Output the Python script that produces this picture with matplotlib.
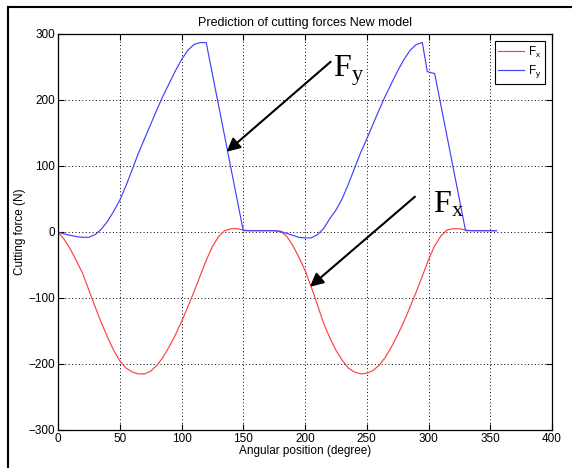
import matplotlib
matplotlib.use("Agg")
import matplotlib.pyplot as plt
from matplotlib.lines import Line2D

# Fx (red)
fx_angle = [0, 5, 10, 15, 20, 25, 30, 35, 40, 45, 50, 55, 60, 65, 70, 75, 80, 85, 90, 95,
            100, 105, 110, 115, 120, 125, 130, 135, 140, 145, 150, 155, 160, 165, 170, 175, 180,
            185, 190, 195, 200, 205, 210, 215, 220, 225, 230, 235, 240, 245, 250, 255, 260, 265,
            270, 275, 280, 285, 290, 295, 300, 305, 310, 315, 320, 325, 330, 335, 340, 345, 350, 355]
fx_force = [0, -11, -26, -44, -63, -88, -113, -137, -159, -179, -195, -206, -212, -215, -215,
            -211, -202, -190, -174, -156, -136, -114, -91, -67, -43, -22, -7, 2, 5, 5, 3,
            2, 2, 2, 2, 2, 1, -6, -20, -38, -58, -83, -110, -138, -160, -179, -194, -206, -212,
            -215, -214, -210, -202, -190, -174, -156, -136, -114, -91, -67, -42, -21, -6, 3, 5,
            5, 3, 2, 2, 2, 2, 2]

# Fy (blue)
fy_angle = [0, 5, 10, 15, 20, 25, 30, 35, 40, 45, 50, 55, 60, 65, 70, 75, 80, 85, 90, 95,
            100, 105, 110, 115, 120, 150, 155, 160, 165, 170, 175, 180,
            185, 190, 195, 200, 205, 210, 215, 220, 225, 230, 235, 240, 245, 250, 255, 260, 265,
            270, 275, 280, 285, 290, 295, 299, 305, 330, 335, 340, 345, 350, 355]
fy_force = [0, -3, -5, -7, -8, -8, -4, 4, 16, 31, 48, 70, 94, 119, 141, 163, 185, 206, 225,
            244, 261, 275, 284, 287, 287, 2, 2, 2, 2, 2, 2, 1,
            -2, -5, -8, -9, -9, -4, 5, 20, 33, 50, 72, 96, 120, 141, 163, 185, 206,
            225, 244, 261, 275, 284, 287, 243, 240, 2, 2, 2, 2, 2, 2]

plt.rcParams["font.family"] = ["Liberation Sans", "DejaVu Sans"]

fig = plt.figure(figsize=(5.72, 4.68), dpi=100)
ax = fig.add_axes([58 / 572, 38 / 468, 494 / 572, 396 / 468])

ax.plot(fx_angle, fx_force, color="#ff4040", lw=0.85, label=r"$\mathregular{F_x}$")
ax.plot(fy_angle, fy_force, color="#4040ff", lw=0.85, label=r"$\mathregular{F_y}$")

ax.set_xlim(0, 400)
ax.set_ylim(-300, 300)
ax.set_xticks(range(0, 401, 50))
ax.set_yticks(range(-300, 301, 100))
ax.grid(True, color="black", linestyle=(0, (1, 2.5)), linewidth=0.7)
ax.tick_params(direction="in", top=True, right=True, length=4, labelsize=8.5, pad=2)
for s in ax.spines.values():
    s.set_linewidth(0.9)

ax.set_title("Prediction of cutting forces New model", fontsize=9, pad=6)
ax.set_xlabel("Angular position (degree)", fontsize=8.5, labelpad=0)
ax.set_ylabel("Cutting force (N)", fontsize=8.5, labelpad=2)

leg = ax.legend(loc="upper right", fontsize=8.5, fancybox=False, framealpha=1,
                edgecolor="black", handlelength=2.2, borderaxespad=0.6,
                handletextpad=0.3, borderpad=0.3, labelspacing=0.3)
leg.get_frame().set_linewidth(0.8)

# arrows pointing at the curves
arrow = dict(arrowstyle="-|>", color="black", lw=1.5, mutation_scale=20,
             shrinkA=0, shrinkB=0)
ax.annotate("", xy=(136.6, 121.6), xytext=(220.8, 258), arrowprops=arrow)
ax.annotate("", xy=(204, -83), xytext=(289, 53.5), arrowprops=arrow)
ax.text(222.7, 236, r"$\mathregular{F_y}$", family=["Liberation Serif"], fontsize=23,
        va="baseline", ha="left")
ax.text(303.4, 28.8, r"$\mathregular{F_x}$", family=["Liberation Serif"], fontsize=23,
        va="baseline", ha="left")

# frame of the original screenshot
fig.add_artist(Line2D([8 / 572, 8 / 572], [0, 1 - 7 / 468], transform=fig.transFigure,
                      color="black", lw=1.5))
fig.add_artist(Line2D([8 / 572, 1], [1 - 7 / 468, 1 - 7 / 468], transform=fig.transFigure,
                      color="black", lw=1.5))

plt.savefig("out.png", dpi=100)
plt.close()
